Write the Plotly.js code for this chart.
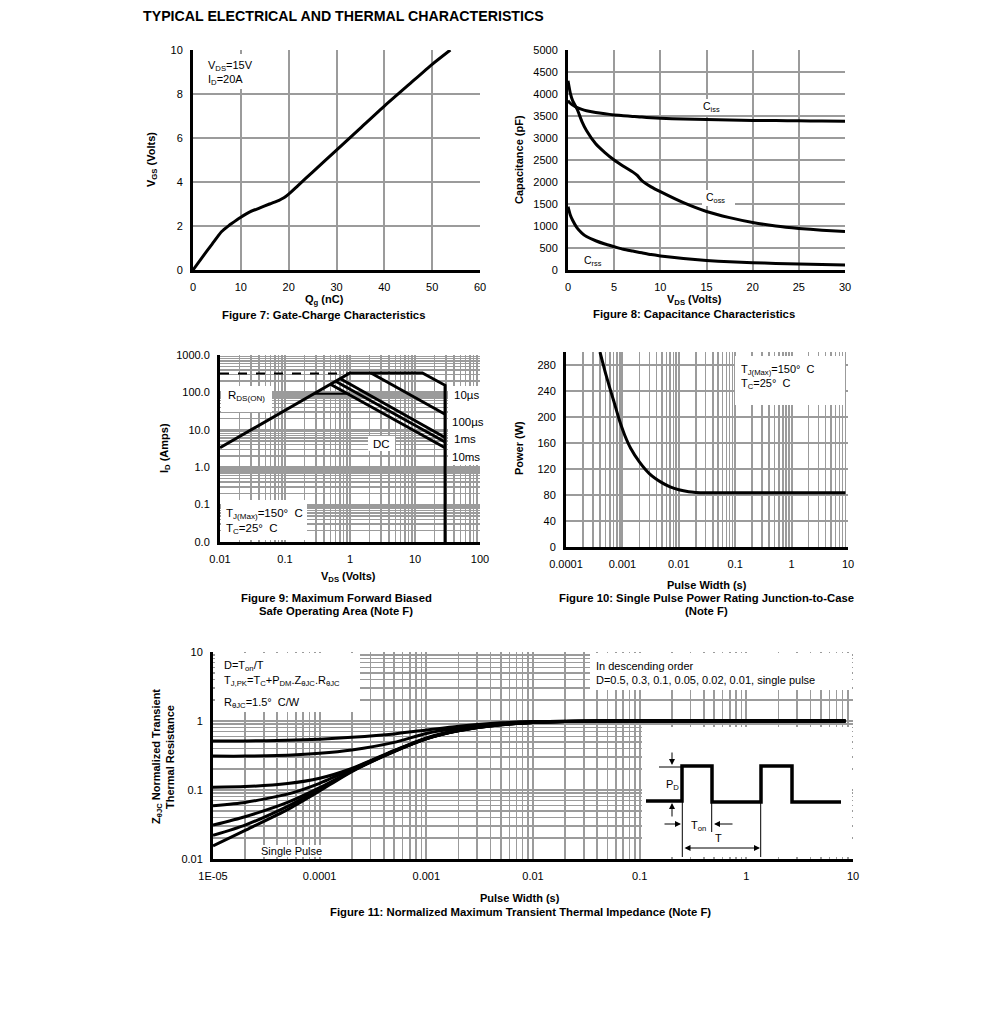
<!DOCTYPE html>
<html>
<head>
<meta charset="utf-8">
<script src="https://cdn.plot.ly/plotly-3.0.1.min.js"></script>
<style>html,body{margin:0;padding:0;background:#fff;}#chart{width:991px;height:1023px;}</style>
</head>
<body>
<div id="chart"></div>
<script>
// ---------------- DATA ----------------
// Figure 7: Gate charge
const qg_nC  = [0, 2, 4, 6, 7.5, 8, 10, 12, 14, 16, 18, 19, 20, 22, 25, 30, 35, 40, 45, 50, 53.8];
const vgs_V  = [0, 0.6, 1.18, 1.75, 2.02, 2.1, 2.4, 2.65, 2.82, 3.0, 3.17, 3.28, 3.45, 3.85, 4.45, 5.45, 6.45, 7.45, 8.4, 9.35, 10];

// Figure 8: Capacitance
const vds_cap = [0, 0.25, 0.5, 1, 1.5, 2, 3, 4, 5, 6, 7, 7.5, 8, 9, 10, 12.5, 15, 17.5, 20, 22.5, 25, 27.5, 30];
const ciss_pF = [3850, 3790, 3750, 3690, 3650, 3620, 3580, 3550, 3525, 3505, 3490, 3485, 3475, 3460, 3450, 3430, 3420, 3410, 3400, 3395, 3390, 3385, 3380];
const coss_pF = [4300, 4020, 3850, 3650, 3380, 3170, 2870, 2670, 2500, 2360, 2230, 2150, 2030, 1890, 1780, 1530, 1330, 1190, 1080, 1000, 945, 905, 875];
const crss_pF = [1440, 1250, 1130, 950, 840, 760, 665, 590, 530, 470, 430, 410, 390, 350, 320, 260, 215, 185, 165, 150, 138, 125, 115];
const capLabels = ['C<sub>iss</sub>', 'C<sub>oss</sub>', 'C<sub>rss</sub>'];

// Figure 9: Safe operating area
const soa_rds_v   = [0.01, 1.0];
const soa_rds_i   = [320, 320];
const soa_10us_v  = [0.01, 1.0, 13, 29, 29];
const soa_10us_i  = [3.3, 330, 330, 155, 0.01];
const soa_100us_v = [2.1, 29];
const soa_100us_i = [330, 26];
const soa_1ms_v   = [0.7, 29];
const soa_1ms_i   = [235, 6.2];
const soa_10ms_v  = [0.6, 29];
const soa_10ms_i  = [198, 4.7];
const soa_dc_v    = [0.5, 29];
const soa_dc_i    = [165, 3.3];
const soa_flat_v  = [0.29, 1.0];
const soa_flat_i  = [92, 92];
const soaLabels = ['10µs', '100µs', '1ms', '10ms', 'DC'];

// Figure 10: Single pulse power
const pw_s  = [4.0e-4, 5e-4, 6e-4, 7e-4, 9e-4, 1.1e-3, 1.4e-3, 2e-3, 3e-3, 5e-3, 7e-3, 1e-2, 1.5e-2, 2e-2, 3e-2, 0.1, 1, 9];
const pwr_W = [300, 268, 244, 225, 193, 172, 152, 131, 113, 99, 92.5, 88, 85, 84, 83.5, 83.5, 83.5, 83.5];

// Figure 11: Normalized transient thermal impedance
const zt_s     = [1e-5, 2e-5, 5e-5, 1e-4, 2e-4, 5e-4, 1e-3, 2e-3, 5e-3, 1e-2, 2e-2, 5e-2, 0.1, 1, 8.5];
const z_d05    = [0.515, 0.515, 0.525, 0.545, 0.58, 0.65, 0.74, 0.84, 0.94, 0.98, 0.99, 1.0, 1.0, 1.0, 1.0];
const z_d03    = [0.31, 0.31, 0.32, 0.34, 0.38, 0.49, 0.66, 0.79, 0.92, 0.97, 0.99, 1.0, 1.0, 1.0, 1.0];
const z_d01    = [0.11, 0.112, 0.124, 0.148, 0.205, 0.375, 0.57, 0.74, 0.895, 0.96, 0.985, 1.0, 1.0, 1.0, 1.0];
const z_d005   = [0.059, 0.066, 0.087, 0.125, 0.2, 0.37, 0.56, 0.73, 0.89, 0.955, 0.985, 1.0, 1.0, 1.0, 1.0];
const z_d002   = [0.031, 0.041, 0.066, 0.108, 0.19, 0.365, 0.555, 0.725, 0.885, 0.95, 0.985, 1.0, 1.0, 1.0, 1.0];
const z_d001   = [0.022, 0.031, 0.058, 0.102, 0.188, 0.362, 0.552, 0.72, 0.88, 0.95, 0.985, 1.0, 1.0, 1.0, 1.0];
const z_single = [0.0155, 0.026, 0.052, 0.097, 0.185, 0.36, 0.55, 0.72, 0.88, 0.95, 0.985, 1.0, 1.0, 1.0, 1.0];

// Tick labels
const f9xTicks = [0.01, 0.1, 1, 10, 100];
const f9xText  = ['0.01', '0.1', '1', '10', '100'];
const f9yTicks = [0.01, 0.1, 1, 10, 100, 1000];
const f9yText  = ['0.0', '0.1', '1.0', '10.0', '100.0', '1000.0'];
const f10xTicks = [1e-4, 1e-3, 1e-2, 0.1, 1, 10];
const f10xText  = ['0.0001', '0.001', '0.01', '0.1', '1', '10'];
const f10yTicks = [0, 40, 80, 120, 160, 200, 240, 280];
const f11xTicks = [1e-5, 1e-4, 1e-3, 1e-2, 0.1, 1, 10];
const f11xText  = ['1E-05', '0.0001', '0.001', '0.01', '0.1', '1', '10'];
const f11yTicks = [0.01, 0.1, 1, 10];
const f11yText  = ['0.01', '0.1', '1', '10'];

// ---------------- LAYOUT HELPERS ----------------
const W = 991, H = 1023;
const FONT = 'Liberation Sans, Arial, sans-serif';
const PX = x => x / W;
const PY = y => 1 - y / H;
const xdom = (a, b) => [a / W, b / W];
const ydom = (top, bot) => [1 - bot / H, 1 - top / H];
const GRID = '#9b9b9b';

function minorVals(lo, hi) {
  const v = [];
  for (let k = lo; k < hi; k++) for (let m = 2; m <= 9; m++) v.push(m * Math.pow(10, k));
  return v;
}
function ax(extra) {
  return Object.assign({
    showline: true, linecolor: '#000', linewidth: 3,
    showgrid: true, gridcolor: GRID, gridwidth: 2,
    zeroline: false, ticks: '', ticklabelstandoff: 5,
    tickfont: {family: FONT, size: 11, color: '#000'},
    fixedrange: true
  }, extra);
}
function logMinor(lo, hi) {
  return {tickmode: 'array', tickvals: minorVals(lo, hi), showgrid: true, gridcolor: GRID, gridwidth: 1.5, ticks: ''};
}
function line(x, y, xa, ya, extra) {
  return Object.assign({x: x, y: y, xaxis: xa, yaxis: ya, mode: 'lines', type: 'scatter',
    line: {color: '#000', width: 3}, showlegend: false, hoverinfo: 'skip'}, extra || {});
}
const smooth = {line: {color: '#000', width: 3, shape: 'spline', smoothing: 0.6}};
function txt(t, x, y, o) {
  return Object.assign({xref: 'paper', yref: 'paper', x: PX(x), y: PY(y), text: t, showarrow: false,
    font: {family: FONT, size: 11, color: '#000'}, xanchor: 'center', yanchor: 'middle'}, o || {});
}
function box(x0, y0, x1, y1) {
  return {type: 'rect', xref: 'paper', yref: 'paper', x0: PX(x0), x1: PX(x1), y0: PY(y0), y1: PY(y1),
    fillcolor: '#fff', line: {width: 0}, layer: 'above'};
}
function seg(x0, y0, x1, y1, w) {
  return {type: 'line', xref: 'paper', yref: 'paper', x0: PX(x0), x1: PX(x1), y0: PY(y0), y1: PY(y1),
    line: {color: '#000', width: w || 1}, layer: 'above'};
}
function arrow(hx, hy, tx, ty, extra) {
  return Object.assign({xref: 'paper', yref: 'paper', x: PX(hx), y: PY(hy), ax: tx - hx, ay: ty - hy,
    axref: 'pixel', ayref: 'pixel', text: '', showarrow: true, arrowhead: 2, arrowsize: 1.2, arrowwidth: 1,
    arrowcolor: '#000', standoff: 0, startstandoff: 0}, extra || {});
}

// ---------------- TRACES ----------------
const traces = [
  line(qg_nC, vgs_V, 'x', 'y', smooth),
  line(vds_cap, ciss_pF, 'x2', 'y2', smooth),
  line(vds_cap, coss_pF, 'x2', 'y2', smooth),
  line(vds_cap, crss_pF, 'x2', 'y2', smooth),
  line(soa_rds_v, soa_rds_i, 'x3', 'y3', {line: {color: '#000', width: 2, dash: 'dash'}}),
  line(soa_10us_v, soa_10us_i, 'x3', 'y3'),
  line(soa_100us_v, soa_100us_i, 'x3', 'y3'),
  line(soa_1ms_v, soa_1ms_i, 'x3', 'y3'),
  line(soa_10ms_v, soa_10ms_i, 'x3', 'y3'),
  line(soa_dc_v, soa_dc_i, 'x3', 'y3'),
  line(soa_flat_v, soa_flat_i, 'x3', 'y3', {line: {color: '#000', width: 2}}),
  line(pw_s, pwr_W, 'x4', 'y4', smooth),
  line(zt_s, z_d05, 'x5', 'y5', smooth),
  line(zt_s, z_d03, 'x5', 'y5', smooth),
  line(zt_s, z_d01, 'x5', 'y5', smooth),
  line(zt_s, z_d005, 'x5', 'y5', smooth),
  line(zt_s, z_d002, 'x5', 'y5', smooth),
  line(zt_s, z_d001, 'x5', 'y5', smooth),
  line(zt_s, z_single, 'x5', 'y5', smooth)
];

// ---------------- ANNOTATIONS / SHAPES ----------------
const B = s => '<b>' + s + '</b>';
const F = sz => ({family: FONT, size: sz, color: '#000'});
const annotations = [
  txt(B('TYPICAL ELECTRICAL AND THERMAL CHARACTERISTICS'), 141, 16, {xanchor: 'left', font: F(14.2)}),
  // Fig 7
  txt(B('V<sub>GS</sub> (Volts)'), 152, 160, {textangle: -90}),
  txt(B('Q<sub>g</sub> (nC)'), 324, 300),
  txt(B('Figure 7: Gate-Charge Characteristics'), 323, 315, {font: F(11.3)}),
  txt('V<sub>DS</sub>=15V', 206, 66, {xanchor: 'left'}),
  txt('I<sub>D</sub>=20A', 206, 80, {xanchor: 'left'}),
  // Fig 8
  txt(B('Capacitance (pF)'), 519, 160, {textangle: -90}),
  txt(B('V<sub>DS</sub> (Volts)'), 694, 300),
  txt(B('Figure 8: Capacitance Characteristics'), 694, 314, {font: F(11.3)}),
  txt(capLabels[0], 711, 107, {font: F(10.5)}),
  txt(capLabels[1], 715, 198, {font: F(10.5)}),
  txt(capLabels[2], 593, 261, {font: F(10.5)}),
  // Fig 9
  txt(B('I<sub>D</sub> (Amps)'), 165, 448, {textangle: -90}),
  txt(B('V<sub>DS</sub> (Volts)'), 348, 577),
  txt(B('Figure 9: Maximum Forward Biased'), 336, 598, {font: F(11.3)}),
  txt(B('Safe Operating Area (Note F)'), 336, 611, {font: F(11.3)}),
  txt('R<sub>DS(ON)</sub>', 226, 396, {xanchor: 'left', font: F(11.5)}),
  txt(soaLabels[0], 452, 395, {xanchor: 'left', font: F(11.5)}),
  txt(soaLabels[1], 450, 422, {xanchor: 'left', font: F(11.5)}),
  txt(soaLabels[2], 452, 439, {xanchor: 'left', font: F(11.5)}),
  txt(soaLabels[3], 450, 457, {xanchor: 'left', font: F(11.5)}),
  txt(soaLabels[4], 381, 444, {font: F(11.5)}),
  txt('T<sub>J(Max)</sub>=150°  C', 224, 514, {xanchor: 'left', font: F(11.5)}),
  txt('T<sub>C</sub>=25°  C', 224, 529, {xanchor: 'left', font: F(11.5)}),
  // Fig 10
  txt(B('Power (W)'), 519, 448, {textangle: -90}),
  txt(B('Pulse Width (s)'), 707, 585),
  txt(B('Figure 10: Single Pulse Power Rating Junction-to-Case'), 706, 598, {font: F(11.3)}),
  txt(B('(Note F)'), 706, 611, {font: F(11.3)}),
  txt('T<sub>J(Max)</sub>=150°  C', 739, 370, {xanchor: 'left'}),
  txt('T<sub>C</sub>=25°  C', 739, 384, {xanchor: 'left'}),
  // Fig 11
  txt(B('Z<sub>θJC</sub> Normalized Transient'), 157, 757, {textangle: -90}),
  txt(B('Thermal Resistance'), 170, 757, {textangle: -90}),
  txt(B('Pulse Width (s)'), 520, 898),
  txt(B('Figure 11: Normalized Maximum Transient Thermal Impedance (Note F)'), 520, 912, {font: F(11.3)}),
  txt('D=T<sub>on</sub>/T', 222, 666, {xanchor: 'left'}),
  txt('T<sub>J,PK</sub>=T<sub>C</sub>+P<sub>DM</sub>.Z<sub>θJC</sub>.R<sub>θJC</sub>', 222, 681, {xanchor: 'left'}),
  txt('R<sub>θJC</sub>=1.5°  C/W', 222, 703, {xanchor: 'left'}),
  txt('In descending order', 594, 666, {xanchor: 'left'}),
  txt('D=0.5, 0.3, 0.1, 0.05, 0.02, 0.01, single pulse', 594, 680, {xanchor: 'left'}),
  txt('Single Pulse', 291, 851),
  txt('P<sub>D</sub>', 664, 785, {xanchor: 'left'}),
  txt('T<sub>on</sub>', 698, 826),
  txt('T', 718, 838),
  arrow(672, 765, 672, 751),
  arrow(672, 803, 672, 818),
  arrow(681, 824, 663, 824),
  arrow(714, 824, 734, 824),
  arrow(760, 848, 683, 848, {arrowside: 'end+start'})
];

const shapes = [
  box(195, 54, 256, 89),
  box(702, 99, 724, 115),
  box(702, 190, 735, 206),
  box(583, 254, 604, 268),
  box(221, 386, 272, 412),
  box(368, 436, 395, 451),
  box(448, 386, 482, 465),
  box(221, 500, 307, 540),
  box(735, 356, 845, 405),
  box(215, 653, 360, 712),
  box(590, 653, 852, 690),
  box(256, 845, 327, 857),
  box(642, 727, 852, 857),
  {type: 'path', xref: 'paper', yref: 'paper', layer: 'above', line: {color: '#000', width: 3.5},
   path: ['M', PX(646), PY(801), 'L', PX(682), PY(801), 'L', PX(682), PY(766), 'L', PX(712), PY(766), 'L', PX(712), PY(802),
          'L', PX(761), PY(802), 'L', PX(761), PY(766), 'L', PX(792), PY(766), 'L', PX(792), PY(802), 'L', PX(841), PY(802)].join(' ')},
  seg(659, 767, 682, 767),
  seg(682.3, 801, 682.3, 857),
  seg(711.7, 802, 711.7, 832),
  seg(760.7, 802, 760.7, 857)
];

const layout = {
  width: W, height: H,
  margin: {l: 0, r: 0, t: 0, b: 0},
  paper_bgcolor: '#fff', plot_bgcolor: 'rgba(0,0,0,0)',
  showlegend: false, hovermode: false,
  xaxis: ax({domain: xdom(193, 480), anchor: 'y', range: [0, 60], dtick: 10}),
  yaxis: ax({domain: ydom(50, 270), anchor: 'x', range: [0, 10], dtick: 2}),
  xaxis2: ax({domain: xdom(568, 845), anchor: 'y2', range: [0, 30], dtick: 5}),
  yaxis2: ax({domain: ydom(50, 270), anchor: 'x2', range: [0, 5000], dtick: 500}),
  xaxis3: ax({domain: xdom(220, 480), anchor: 'y3', type: 'log', range: [-2, 2], tickmode: 'array', tickvals: f9xTicks, ticktext: f9xText, minor: logMinor(-2, 2)}),
  yaxis3: ax({domain: ydom(355, 542), anchor: 'x3', type: 'log', range: [-2, 3], tickmode: 'array', tickvals: f9yTicks, ticktext: f9yText, minor: logMinor(-2, 3)}),
  xaxis4: ax({domain: xdom(566, 848), anchor: 'y4', type: 'log', range: [-4, 1], tickmode: 'array', tickvals: f10xTicks, ticktext: f10xText, minor: logMinor(-4, 1)}),
  yaxis4: ax({domain: ydom(352, 547), anchor: 'x4', range: [0, 300], tickmode: 'array', tickvals: f10yTicks}),
  xaxis5: ax({domain: xdom(213, 853), anchor: 'y5', type: 'log', range: [-5, 1], tickmode: 'array', tickvals: f11xTicks, ticktext: f11xText, minor: logMinor(-5, 1)}),
  yaxis5: ax({domain: ydom(652, 859), anchor: 'x5', type: 'log', range: [-2, 1], tickmode: 'array', tickvals: f11yTicks, ticktext: f11yText, minor: logMinor(-2, 1)}),
  annotations: annotations,
  shapes: shapes
};

Plotly.newPlot('chart', traces, layout, {displayModeBar: false, staticPlot: true});
</script>
</body>
</html>
